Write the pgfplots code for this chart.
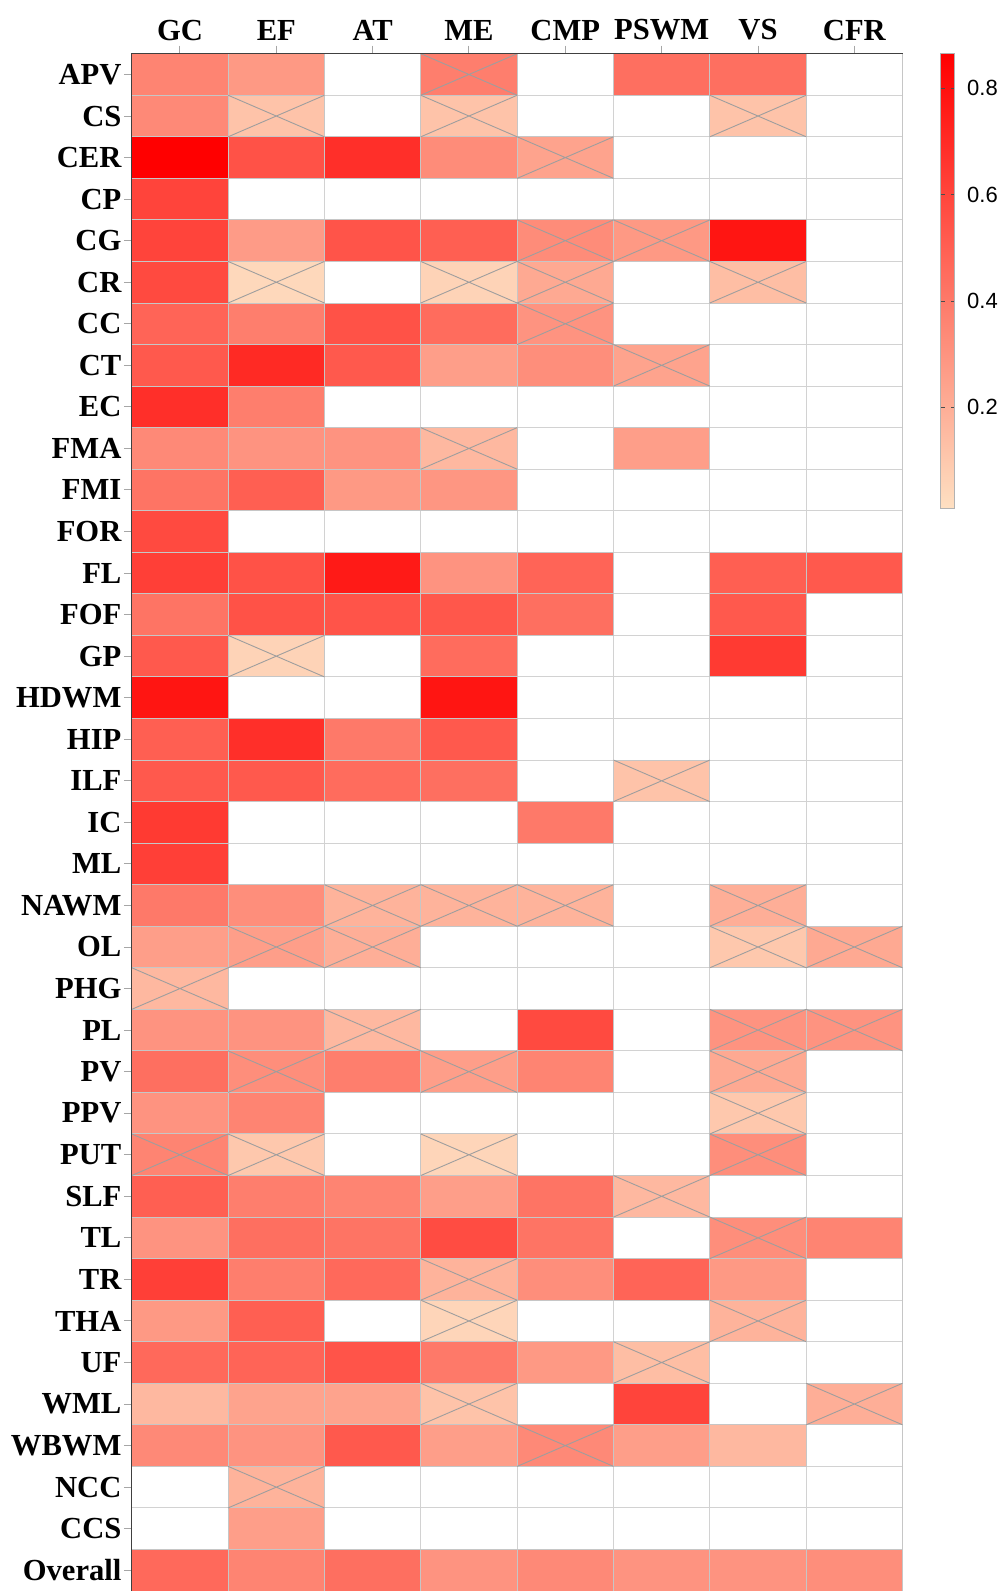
\documentclass[border=0pt]{standalone}
\usepackage{fontspec}
\setmainfont{Liberation Serif}
\setsansfont{Liberation Sans}
\usepackage{pgfplots}
\usepackage{pgfplotstable}
\pgfplotsset{compat=1.18}
\pgfdeclareplotmark{cell}{%
  \pgfpathrectangle{\pgfpoint{-24.0875pt}{-10.3875pt}}{\pgfpoint{48.175pt}{20.775pt}}%
  \pgfusepathqfillstroke}
\pgfdeclareplotmark{cellx}{%
  \pgfpathmoveto{\pgfpoint{-24.0875pt}{-10.3875pt}}\pgfpathlineto{\pgfpoint{24.0875pt}{10.3875pt}}%
  \pgfpathmoveto{\pgfpoint{-24.0875pt}{10.3875pt}}\pgfpathlineto{\pgfpoint{24.0875pt}{-10.3875pt}}%
  \pgfusepathqstroke}
\pgfplotstableread{
x y v c
0 0 0.36 0
1 0 0.28 0
3 0 0.38 1
5 0 0.44 0
6 0 0.44 0
0 1 0.34 0
1 1 0.12 1
3 1 0.12 1
6 1 0.12 1
0 2 0.86 0
1 2 0.55 0
2 2 0.68 0
3 2 0.33 0
4 2 0.24 1
0 3 0.60 0
0 4 0.60 0
1 4 0.27 0
2 4 0.54 0
3 4 0.50 0
4 4 0.33 1
5 4 0.28 1
6 4 0.78 0
0 5 0.58 0
1 5 0.04 1
3 5 0.06 1
4 5 0.22 1
6 5 0.14 1
0 6 0.48 0
1 6 0.38 0
2 6 0.55 0
3 6 0.45 0
4 6 0.30 1
0 7 0.52 0
1 7 0.70 0
2 7 0.52 0
3 7 0.26 0
4 7 0.32 0
5 7 0.24 1
0 8 0.68 0
1 8 0.38 0
0 9 0.34 0
1 9 0.30 0
2 9 0.30 0
3 9 0.16 1
5 9 0.26 0
0 10 0.42 0
1 10 0.50 0
2 10 0.28 0
3 10 0.29 0
0 11 0.58 0
0 12 0.62 0
1 12 0.55 0
2 12 0.76 0
3 12 0.30 0
4 12 0.48 0
6 12 0.50 0
7 12 0.52 0
0 13 0.42 0
1 13 0.55 0
2 13 0.54 0
3 13 0.53 0
4 13 0.44 0
6 13 0.52 0
0 14 0.52 0
1 14 0.06 1
3 14 0.45 0
6 14 0.64 0
0 15 0.78 0
3 15 0.78 0
0 16 0.50 0
1 16 0.68 0
2 16 0.40 0
3 16 0.52 0
0 17 0.52 0
1 17 0.52 0
2 17 0.45 0
3 17 0.44 0
5 17 0.12 1
0 18 0.64 0
4 18 0.40 0
0 19 0.62 0
0 20 0.40 0
1 20 0.32 0
2 20 0.18 1
3 20 0.18 1
4 20 0.18 1
6 20 0.20 1
0 21 0.26 0
1 21 0.26 1
2 21 0.20 1
6 21 0.10 1
7 21 0.22 1
0 22 0.16 1
0 23 0.30 0
1 23 0.30 0
2 23 0.16 1
4 23 0.58 0
6 23 0.30 1
7 23 0.30 1
0 24 0.44 0
1 24 0.32 1
2 24 0.38 0
3 24 0.26 1
4 24 0.36 0
6 24 0.22 1
0 25 0.30 0
1 25 0.36 0
6 25 0.10 1
0 26 0.36 1
1 26 0.10 1
3 26 0.05 1
6 26 0.32 1
0 27 0.50 0
1 27 0.38 0
2 27 0.36 0
3 27 0.26 0
4 27 0.42 0
5 27 0.16 1
0 28 0.30 0
1 28 0.44 0
2 28 0.42 0
3 28 0.57 0
4 28 0.42 0
6 28 0.32 1
7 28 0.36 0
0 29 0.62 0
1 29 0.38 0
2 29 0.46 0
3 29 0.18 1
4 29 0.32 0
5 29 0.48 0
6 29 0.28 0
0 30 0.28 0
1 30 0.50 0
3 30 0.05 1
6 30 0.18 1
0 31 0.46 0
1 31 0.48 0
2 31 0.54 0
3 31 0.40 0
4 31 0.28 0
5 31 0.14 1
0 32 0.16 0
1 32 0.24 0
2 32 0.24 0
3 32 0.12 1
5 32 0.60 0
7 32 0.20 1
0 33 0.34 0
1 33 0.30 0
2 33 0.52 0
3 33 0.26 0
4 33 0.34 1
5 33 0.26 0
6 33 0.16 0
1 34 0.18 1
1 35 0.26 0
0 36 0.46 0
1 36 0.36 0
2 36 0.44 0
3 36 0.30 0
4 36 0.34 0
5 36 0.30 0
6 36 0.30 0
7 36 0.32 0
}\cells
\begin{document}
\begin{tikzpicture}
\begin{axis}[
  scale only axis,
  width=385.4pt, height=768.7pt,
  xmin=-0.5, xmax=7.5, ymin=-0.5, ymax=36.5,
  y dir=reverse,
  xtick={0,...,7},
  xticklabels={GC,EF,AT,ME,CMP,PSWM,VS,CFR},
  ytick={0,...,36},
  yticklabels={APV,CS,CER,CP,CG,CR,CC,CT,EC,FMA,FMI,FOR,FL,FOF,GP,HDWM,HIP,ILF,IC,ML,NAWM,OL,PHG,PL,PV,PPV,PUT,SLF,TL,TR,THA,UF,WML,WBWM,NCC,CCS,Overall},
  xtick pos=right, xticklabel pos=right,
  ytick pos=left,
  tick align=outside,
  major tick length=4pt,
  tick style={gray!70, line width=0.5pt},
  minor xtick={0.5,1.5,...,6.5},
  minor ytick={0.5,1.5,...,35.5},
  minor tick length=0pt,
  grid=minor,
  minor grid style={gray!35, line width=0.5pt},
  axis line style={gray!45, line width=0.5pt},
  xticklabel style={font=\fontsize{15.3}{16}\selectfont\bfseries, inner ysep=2.5pt},
  yticklabel style={font=\fontsize{15.3}{16}\selectfont\bfseries, inner xsep=1pt},
  colormap={peachred}{rgb255(0cm)=(254,224,194); rgb255(1cm)=(255,0,0)},
  point meta min=0.01, point meta max=0.865,
  colorbar,
  colorbar style={
    at={(parent axis.north east)}, anchor=north west, xshift=10.6pt,
    scale only axis, width=7pt, height=227.4pt,
    ytick={0.2,0.4,0.6,0.8},
    axis line style={gray!60, line width=0.5pt},
    tick align=inside, major tick length=2pt,
    tick style={black!70, line width=0.4pt},
    ytick pos=both,
    yticklabel pos=right,
    yticklabel style={font=\fontsize{11}{12}\sffamily, inner xsep=0pt, xshift=6pt,
      /pgf/number format/assume math mode=true,
      /pgf/number format/fixed, /pgf/number format/precision=1},
  },
  after end axis/.code={
    \draw[black!75, line width=0.7pt] (rel axis cs:0,0) -- (rel axis cs:0,1) -- (rel axis cs:1,1);
  },
]
\addplot[scatter, only marks, mark=cell, point meta=explicit,
  scatter/use mapped color={draw=gray!45, fill=mapped color, line width=0.5pt}]
  table[x=x, y=y, meta=v] {\cells};
\addplot[only marks, mark=cellx, mark options={draw=black!38, line width=0.45pt},
  restrict expr to domain={\thisrow{c}}{1:1}]
  table[x=x, y=y] {\cells};
\end{axis}
\pgfresetboundingbox
\useasboundingbox (-65.9pt,0pt) rectangle (435.6pt,795.55pt);
\end{tikzpicture}
\end{document}
